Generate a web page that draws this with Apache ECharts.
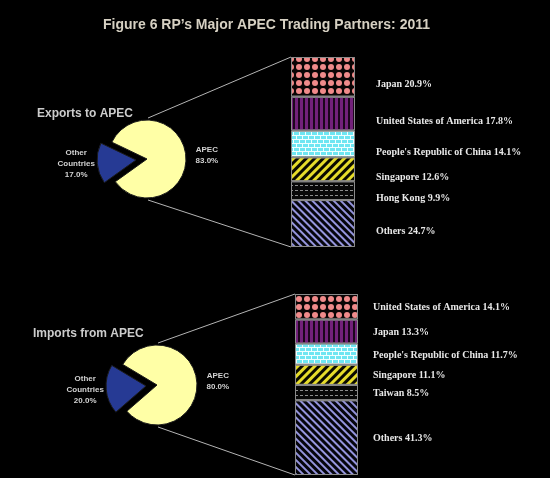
<!DOCTYPE html>
<html>
<head>
<meta charset="utf-8">
<script src="https://cdn.jsdelivr.net/npm/echarts@6/dist/echarts.min.js"></script>
<style>
html,body{margin:0;padding:0;background:#000;}
#chart{width:550px;height:478px;}
</style>
</head>
<body>
<div id="chart"></div>
<script>
// ---- data ----
const chartTitle = "Figure 6 RP’s Major APEC Trading Partners: 2011";
const exportsTitle = "Exports to APEC";
const importsTitle = "Imports from APEC";
const pieNames = ["APEC", "Other\nCountries"];
const exportPie = [83.0, 17.0];
const importPie = [80.0, 20.0];
const exportPartners = ["Japan", "United States of America", "People's Republic of China", "Singapore", "Hong Kong", "Others"];
const exportShares = [20.9, 17.8, 14.1, 12.6, 9.9, 24.7];
const importPartners = ["United States of America", "Japan", "People's Republic of China", "Singapore", "Taiwan", "Others"];
const importShares = [14.1, 13.3, 11.7, 11.1, 8.5, 41.3];

// ---- styles ----
const segStyles = [
  {color:'#0a0505', decal:{symbol:'circle', color:'#f08a8a', symbolSize:1, dashArrayX:[5.5,1.5], dashArrayY:[5.5,1.5]}},
  {color:'#1c061c', decal:{symbol:'rect', color:'#72217a', symbolSize:1, dashArrayX:[3,1.2], dashArrayY:[10,0]}},
  {color:'#f0ffff', decal:{symbol:'rect', color:'#6ee6f2', symbolSize:1, dashArrayX:[[5,1],[2,1,3,0]], dashArrayY:[3,1]}},
  {color:'#0a0a00', decal:{symbol:'rect', color:'#e6dc2a', symbolSize:1, dashArrayX:[20,0], dashArrayY:[2.5,3], rotation:-Math.PI/4}},
  {color:'#080808', decal:{symbol:'rect', color:'#8c8c8c', symbolSize:1, dashArrayX:[3,2], dashArrayY:[1,4]}},
  {color:'#05050c', decal:{symbol:'rect', color:'#9494dc', symbolSize:1, dashArrayX:[20,0], dashArrayY:[2,2.4], rotation:Math.PI/4}}
];
const labelColor = '#e8e8e8';
const font = 'Arial, "Liberation Sans", sans-serif';
const serif = '"Liberation Serif", "Times New Roman", serif';

const exPie = {cx:147, cy:159, r:39, start:154.4};
const imPie = {cx:157, cy:385, r:40, start:149};
const exGrid = {left:291, top:57, width:64, height:190};
const imGrid = {left:295, top:294, width:63, height:181};

function barSeries(names, values, gridIdx, labelDy, labelDist){
  return names.map((n,i)=>({
    type:'bar', name:n, stack:'s'+gridIdx, xAxisIndex:gridIdx, yAxisIndex:gridIdx,
    data:[values[i]], barWidth:'100%',
    itemStyle:Object.assign({borderColor:'#8a8a8a', borderWidth:1}, segStyles[i]),
    label:{show:true, position:'right', distance:labelDist, offset:[0,labelDy],
      color:labelColor, fontSize:10, fontWeight:'bold', fontFamily:serif,
      formatter:(p)=>p.seriesName+' '+p.value.toFixed(1)+'%'},
    emphasis:{disabled:true}, silent:true, animation:false
  }));
}
function pieSeries(values, p){
  return {
    type:'pie', center:[p.cx,p.cy], radius:[0,p.r], startAngle:p.start, clockwise:true,
    selectedMode:'single', selectedOffset:11, animation:false, silent:true,
    data:[
      {name:pieNames[0], value:values[0], itemStyle:{color:'#ffffa6'}},
      {name:pieNames[1], value:values[1], selected:true, itemStyle:{color:'#263a94'}}
    ],
    itemStyle:{borderColor:'#1a1a1a', borderWidth:1},
    label:{show:true, position:'outside', color:'#d2d2d2', fontSize:8, fontWeight:'bold',
      fontFamily:font, lineHeight:11,
      formatter:(q)=>q.name.split('\n').concat([q.value.toFixed(1)+'%']).map(s=>'{c|'+s+'}').join('\n'),
      rich:{c:{width:30, align:'center', color:'#d2d2d2', fontSize:8, fontWeight:'bold', fontFamily:font, lineHeight:11}}},
    labelLine:{show:false, length:1, length2:0},
    emphasis:{disabled:true}
  };
}

const chart = echarts.init(document.getElementById('chart'), null, {renderer:'canvas'});
chart.setOption({
  backgroundColor:'#000',
  animation:false,
  title:[
    {text:chartTitle, left:98, top:13, textStyle:{color:'#d6d0c2', fontSize:14, fontWeight:'bold', fontFamily:font}},
    {text:exportsTitle, left:32, top:103, textStyle:{color:'#cccccc', fontSize:12, fontWeight:'bold', fontFamily:font}},
    {text:importsTitle, left:28, top:323, textStyle:{color:'#cccccc', fontSize:12, fontWeight:'bold', fontFamily:font}}
  ],
  grid:[
    Object.assign({}, exGrid),
    Object.assign({}, imGrid)
  ],
  xAxis:[
    {type:'category', data:['Exports'], gridIndex:0, show:false},
    {type:'category', data:['Imports'], gridIndex:1, show:false}
  ],
  yAxis:[
    {type:'value', gridIndex:0, min:0, max:100, inverse:true, show:false},
    {type:'value', gridIndex:1, min:0, max:100, inverse:true, show:false}
  ],
  series:[].concat(
    barSeries(exportPartners, exportShares, 0, 8, 21),
    barSeries(importPartners, importShares, 1, 1, 15),
    [pieSeries(exportPie, exPie), pieSeries(importPie, imPie)]
  )
});

// connector lines from pie top/bottom to the bars' top/bottom left corners
function connectors(p, gridIdx, cat){
  const top = chart.convertToPixel({xAxisIndex:gridIdx, yAxisIndex:gridIdx}, [cat, 0]);
  const bot = chart.convertToPixel({xAxisIndex:gridIdx, yAxisIndex:gridIdx}, [cat, 100]);
  const g = gridIdx === 0 ? exGrid : imGrid;
  const x = g.left;
  const st = {stroke:'#b4b4b4', lineWidth:1};
  return [
    {type:'line', shape:{x1:p.cx+1, y1:p.cy-p.r-2, x2:x, y2:top[1]}, style:st, silent:true},
    {type:'line', shape:{x1:p.cx+1, y1:p.cy+p.r+2, x2:x, y2:bot[1]}, style:st, silent:true}
  ];
}
chart.setOption({graphic:[].concat(connectors(exPie,0,'Exports'), connectors(imPie,1,'Imports'))});
</script>
</body>
</html>
